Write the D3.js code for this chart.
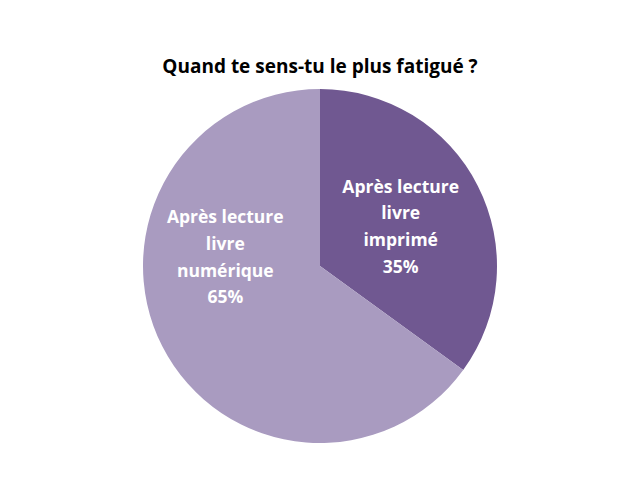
<!DOCTYPE html>
<html><head><meta charset="utf-8">
<script src="https://cdn.jsdelivr.net/npm/d3@7"></script>
<style>body{margin:0;background:#fff}svg{display:block}</style>
</head><body>
<svg id="c" width="638" height="478"></svg>
<script>
const categories = ["Après lecture livre imprimé", "Après lecture livre numérique"];
const labelLines = [["Après lecture","livre","imprimé"],["Après lecture","livre","numérique"]];
const values = [35, 65];
const colors = ["#705891", "#A99BC0"];
const title = "Quand te sens-tu le plus fatigué ?";

const svg = d3.select("#c");
const cx = 320, cy = 266, r = 177;
svg.append("text").attr("x", 320).attr("y", 73).attr("text-anchor","middle")
  .attr("font-family","'Open Sans', 'Liberation Sans', sans-serif").attr("font-weight","bold")
  .attr("font-size", 19).attr("fill","#000").text(title);

const pie = d3.pie().sort(null).value(d => d)(values);
const arc = d3.arc().innerRadius(0).outerRadius(r);
const g = svg.append("g").attr("transform", `translate(${cx},${cy})`);
g.selectAll("path").data(pie).join("path").attr("d", arc).attr("fill", (d,i) => colors[i]);

const labelArc = d3.arc().innerRadius(r*0.55).outerRadius(r*0.55);
const offsets = [[-6,5],[-8,-53]];
pie.forEach((d,i) => {
  const [x,y] = labelArc.centroid(d);
  const lines = labelLines[i].concat([values[i] + "%"]);
  const t = g.append("text").attr("text-anchor","middle")
    .attr("font-family","'Open Sans', 'Liberation Sans', sans-serif").attr("font-weight","bold")
    .attr("font-size", 17.5).attr("fill","#fff");
  const lh = 26.7;
  lines.forEach((s,k) => {
    t.append("tspan").attr("x", x + offsets[i][0])
      .attr("y", y + offsets[i][1] + (k - (lines.length-1)/2)*lh + 6).text(s);
  });
});
</script>
</body></html>
